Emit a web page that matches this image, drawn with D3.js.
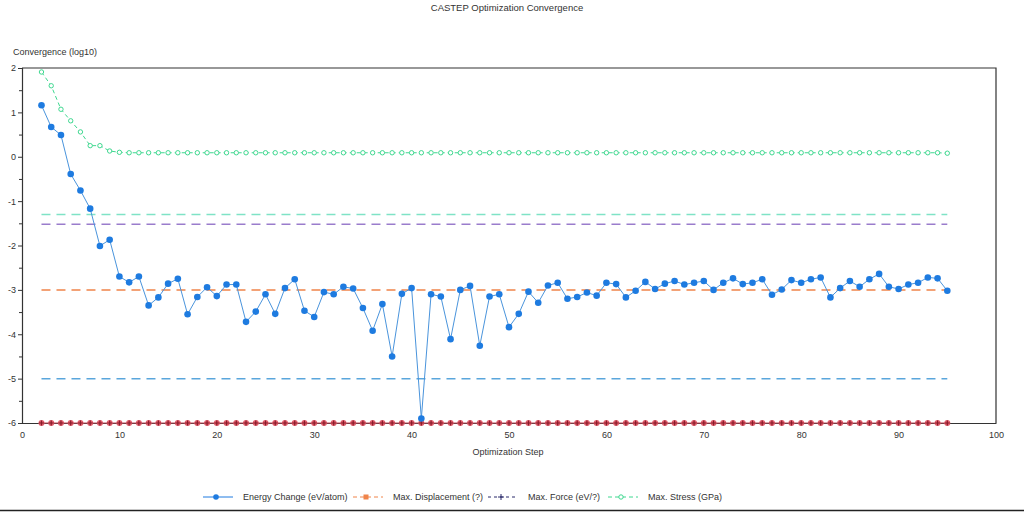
<!DOCTYPE html>
<html>
<head>
<meta charset="utf-8">
<script src="https://cdn.jsdelivr.net/npm/d3@7"></script>
<style>
  body { margin: 0; background: #fff; }
  svg text { font-family: "Liberation Sans", Arial, sans-serif; fill: #333; }
</style>
</head>
<body>
<svg id="chart" width="1024" height="512"></svg>
<script>
// optimization steps 2..95
const steps = [
  2, 3, 4, 5, 6, 7, 8, 9, 10, 11, 12, 13, 14, 15, 16, 17, 18, 19, 20, 21,
  22, 23, 24, 25, 26, 27, 28, 29, 30, 31, 32, 33, 34, 35, 36, 37, 38, 39, 40, 41,
  42, 43, 44, 45, 46, 47, 48, 49, 50, 51, 52, 53, 54, 55, 56, 57, 58, 59, 60, 61,
  62, 63, 64, 65, 66, 67, 68, 69, 70, 71, 72, 73, 74, 75, 76, 77, 78, 79, 80, 81,
  82, 83, 84, 85, 86, 87, 88, 89, 90, 91, 92, 93, 94, 95
];

const energyChange = [
  1.16, 0.67, 0.49, -0.39, -0.76, -1.17, -2.01, -1.87, -2.70, -2.83,
  -2.70, -3.35, -3.17, -2.86, -2.75, -3.55, -3.16, -2.94, -3.14, -2.88,
  -2.88, -3.72, -3.49, -3.10, -3.54, -2.96, -2.76, -3.47, -3.61, -3.05,
  -3.10, -2.93, -2.97, -3.41, -3.92, -3.32, -4.50, -3.09, -2.96, -5.90,
  -3.10, -3.15, -4.11, -3.00, -2.91, -4.26, -3.15, -3.10, -3.84, -3.54,
  -3.04, -3.29, -2.90, -2.84, -3.20, -3.16, -3.06, -3.13, -2.84, -2.87,
  -3.17, -3.02, -2.82, -2.98, -2.86, -2.80, -2.88, -2.84, -2.80, -3.00,
  -2.84, -2.74, -2.87, -2.84, -2.76, -3.11, -2.99, -2.78, -2.84, -2.76,
  -2.72, -3.17, -2.96, -2.80, -2.93, -2.76, -2.64, -2.93, -2.98, -2.88,
  -2.84, -2.72, -2.74, -3.02
];

const maxStress = [
  1.91, 1.60, 1.07, 0.81, 0.56, 0.25, 0.25, 0.13, 0.10, 0.09,
  0.09, 0.09, 0.09, 0.09, 0.09, 0.09, 0.09, 0.09, 0.09, 0.09,
  0.09, 0.09, 0.09, 0.09, 0.09, 0.09, 0.09, 0.09, 0.09, 0.09,
  0.09, 0.09, 0.09, 0.09, 0.09, 0.09, 0.09, 0.09, 0.09, 0.09,
  0.09, 0.09, 0.09, 0.09, 0.09, 0.09, 0.09, 0.09, 0.09, 0.09,
  0.09, 0.09, 0.09, 0.09, 0.09, 0.09, 0.09, 0.09, 0.09, 0.09,
  0.09, 0.09, 0.09, 0.09, 0.09, 0.09, 0.09, 0.09, 0.09, 0.09,
  0.09, 0.09, 0.09, 0.09, 0.09, 0.09, 0.09, 0.09, 0.09, 0.09,
  0.09, 0.09, 0.09, 0.09, 0.09, 0.09, 0.09, 0.09, 0.09, 0.09,
  0.09, 0.09, 0.09, 0.08
];

// displacement and force are zero -> shown at the -6 floor
const maxDisplacement = [
  -6, -6, -6, -6, -6, -6, -6, -6, -6, -6, -6, -6, -6, -6, -6, -6, -6, -6, -6, -6,
  -6, -6, -6, -6, -6, -6, -6, -6, -6, -6, -6, -6, -6, -6, -6, -6, -6, -6, -6, -6,
  -6, -6, -6, -6, -6, -6, -6, -6, -6, -6, -6, -6, -6, -6, -6, -6, -6, -6, -6, -6,
  -6, -6, -6, -6, -6, -6, -6, -6, -6, -6, -6, -6, -6, -6, -6, -6, -6, -6, -6, -6,
  -6, -6, -6, -6, -6, -6, -6, -6, -6, -6, -6, -6, -6, -6
];
const maxForce = [
  -6, -6, -6, -6, -6, -6, -6, -6, -6, -6, -6, -6, -6, -6, -6, -6, -6, -6, -6, -6,
  -6, -6, -6, -6, -6, -6, -6, -6, -6, -6, -6, -6, -6, -6, -6, -6, -6, -6, -6, -6,
  -6, -6, -6, -6, -6, -6, -6, -6, -6, -6, -6, -6, -6, -6, -6, -6, -6, -6, -6, -6,
  -6, -6, -6, -6, -6, -6, -6, -6, -6, -6, -6, -6, -6, -6, -6, -6, -6, -6, -6, -6,
  -6, -6, -6, -6, -6, -6, -6, -6, -6, -6, -6, -6, -6, -6
];

// convergence tolerances (log10)
const tolerances = [
  { name: "stress", value: -1.30, color: "#7fe3c6" },
  { name: "force", value: -1.52, color: "#9a7ccc" },
  { name: "displacement", value: -3.0, color: "#f0844a" },
  { name: "energy", value: -5.0, color: "#5aa6dc" }
];

const xTicks = [0, 10, 20, 30, 40, 50, 60, 70, 80, 90, 100];
const yTicks = [2, 1, 0, -1, -2, -3, -4, -5, -6];

const legendItems = [
  { label: "Energy Change (eV/atom)", color: "#1e7be0", dash: null, marker: "dot" },
  { label: "Max. Displacement (?)", color: "#f0844a", dash: "4,3", marker: "square" },
  { label: "Max. Force (eV/?)", color: "#2a2a6a", dash: "3,3", marker: "plus" },
  { label: "Max. Stress (GPa)", color: "#3fd890", dash: "4,3", marker: "ring" }
];

const svg = d3.select("#chart");
const margin = { top: 68, right: 28, bottom: 89, left: 22 };
const width = 1024 - margin.left - margin.right;
const height = 512 - margin.top - margin.bottom;

const x = d3.scaleLinear().domain([0, 100]).range([margin.left, margin.left + width]);
const y = d3.scaleLinear().domain([-6, 2]).range([margin.top + height, margin.top]);

// title and axis titles
svg.append("text").attr("x", 507).attr("y", 11).attr("text-anchor", "middle")
  .attr("font-size", 9.5).text("CASTEP Optimization Convergence");
svg.append("text").attr("x", 13).attr("y", 55)
  .attr("font-size", 9).text("Convergence (log10)");
svg.append("text").attr("x", 508).attr("y", 455).attr("text-anchor", "middle")
  .attr("font-size", 9).text("Optimization Step");

// frame: top and right borders
svg.append("path")
  .attr("d", `M${x(0)},${y(2)}H${x(100)}V${y(-6)}`)
  .attr("fill", "none").attr("stroke", "#333").attr("stroke-width", 1.2);

// left axis
const yAxis = svg.append("g").attr("transform", `translate(${x(0)},0)`)
  .call(d3.axisLeft(y).tickValues(yTicks).tickSize(4).tickFormat(d => String(d)));
svg.append("g").attr("transform", `translate(${x(0)},0)`)
  .call(d3.axisLeft(y).tickValues([1.5, 0.5, -0.5, -1.5, -2.5, -3.5, -4.5, -5.5]).tickSize(3).tickFormat(""))
  .call(g => g.select(".domain").remove());

// bottom axis
const xAxis = svg.append("g").attr("transform", `translate(0,${y(-6)})`)
  .call(d3.axisBottom(x).tickValues(xTicks).tickSize(0).tickPadding(9));

svg.selectAll(".domain").attr("stroke", "#333").attr("stroke-width", 1.2);
svg.selectAll(".tick line").attr("stroke", "#333");
svg.selectAll(".tick text").attr("font-size", 9).attr("fill", "#444")
  .style("font-family", "Liberation Sans, Arial, sans-serif");
yAxis.selectAll(".tick text").attr("x", -6);

// tolerance lines
svg.append("g").selectAll("line").data(tolerances).join("line")
  .attr("x1", x(steps[0])).attr("x2", x(steps[steps.length - 1]))
  .attr("y1", d => y(d.value)).attr("y2", d => y(d.value))
  .attr("stroke", d => d.color).attr("stroke-width", 1.5)
  .attr("stroke-dasharray", "9,6");

// displacement & force at the floor
const floorG = svg.append("g");
floorG.append("path")
  .datum(steps.map((s, i) => [s, maxDisplacement[i]]))
  .attr("d", d3.line().x(d => x(d[0])).y(d => y(d[1])))
  .attr("fill", "none").attr("stroke", "#c04858").attr("stroke-width", 1);
floorG.selectAll("circle").data(steps.map((s, i) => [s, maxDisplacement[i]])).join("circle")
  .attr("cx", d => x(d[0])).attr("cy", d => y(d[1])).attr("r", 3)
  .attr("fill", "#e2606e");
floorG.selectAll("path.plus").data(steps.map((s, i) => [s, maxForce[i]])).join("path")
  .attr("class", "plus")
  .attr("d", d => `M${x(d[0]) - 2.5},${y(d[1])}h5M${x(d[0])},${y(d[1]) - 2.5}v5`)
  .attr("stroke", "#8a1a2a").attr("stroke-width", 1.2);

// max stress
const stressData = steps.map((s, i) => [s, maxStress[i]]);
svg.append("path").datum(stressData)
  .attr("d", d3.line().x(d => x(d[0])).y(d => y(d[1])))
  .attr("fill", "none").attr("stroke", "#3fd890").attr("stroke-width", 1)
  .attr("stroke-dasharray", "4,3");
svg.append("g").selectAll("circle").data(stressData).join("circle")
  .attr("cx", d => x(d[0])).attr("cy", d => y(d[1])).attr("r", 2.2)
  .attr("fill", "#fff").attr("stroke", "#3fd890").attr("stroke-width", 1);

// energy change
const energyData = steps.map((s, i) => [s, energyChange[i]]);
svg.append("path").datum(energyData)
  .attr("d", d3.line().x(d => x(d[0])).y(d => y(d[1])))
  .attr("fill", "none").attr("stroke", "#4a94dc").attr("stroke-width", 1);
svg.append("g").selectAll("circle").data(energyData).join("circle")
  .attr("cx", d => x(d[0])).attr("cy", d => y(d[1])).attr("r", 3.3)
  .attr("fill", "#1e7be0");

// legend
const legendX = [203, 353, 488, 608];
const legendY = 497;
const lg = svg.append("g");
legendItems.forEach((item, i) => {
  const x0 = legendX[i];
  const g = lg.append("g");
  g.append("line").attr("x1", x0).attr("x2", x0 + 30).attr("y1", legendY).attr("y2", legendY)
    .attr("stroke", item.color).attr("stroke-width", 1)
    .attr("stroke-dasharray", item.dash);
  const cx = x0 + 13;
  if (item.marker === "dot") {
    g.append("circle").attr("cx", cx).attr("cy", legendY).attr("r", 2.8).attr("fill", item.color);
  } else if (item.marker === "square") {
    g.append("rect").attr("x", cx - 2.5).attr("y", legendY - 2.5).attr("width", 5).attr("height", 5)
      .attr("fill", item.color);
  } else if (item.marker === "plus") {
    g.append("path").attr("d", `M${cx - 3},${legendY}h6M${cx},${legendY - 3}v6`)
      .attr("stroke", item.color).attr("stroke-width", 1);
  } else {
    g.append("circle").attr("cx", cx).attr("cy", legendY).attr("r", 2.2)
      .attr("fill", "#fff").attr("stroke", item.color);
  }
  g.append("text").attr("x", x0 + 40).attr("y", legendY + 3)
    .attr("font-size", 9).text(item.label);
});

// bottom rule
svg.append("line").attr("x1", 0).attr("x2", 1024).attr("y1", 510.5).attr("y2", 510.5)
  .attr("stroke", "#222").attr("stroke-width", 1.5);
</script>
</body>
</html>
